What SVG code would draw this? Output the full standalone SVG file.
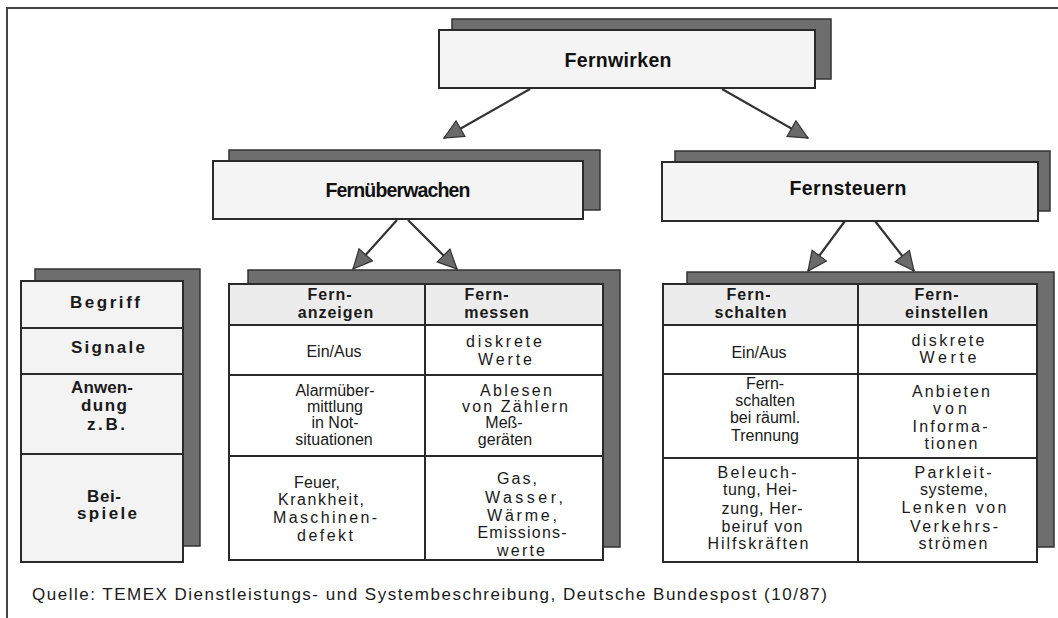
<svg xmlns="http://www.w3.org/2000/svg" width="1058" height="618" viewBox="0 0 1058 618">
<style>
.shadow{fill:#6e6e6e;stroke:#333;stroke-width:1.5}
.box{fill:#f4f4f4;stroke:#2a2a2a;stroke-width:2}
.hdr{fill:#ececec}
.cell{fill:#ffffff}
.lc{fill:#f3f3f3}
.ln{stroke:#2a2a2a;stroke-width:2;fill:none}
.big{font-family:"Liberation Sans",Arial,sans-serif;font-weight:bold;font-size:19.5px;fill:#111;text-anchor:middle}
.bh{font-family:"Liberation Sans",Arial,sans-serif;font-weight:bold;font-size:16px;letter-spacing:1px;fill:#1a1a1a;text-anchor:middle}
.bl{font-family:"Liberation Sans",Arial,sans-serif;font-weight:bold;font-size:17px;fill:#1a1a1a;text-anchor:middle}
.t{font-family:"Liberation Sans",Arial,sans-serif;font-size:16px;fill:#1a1a1a;text-anchor:middle}
.cap{font-family:"Liberation Sans",Arial,sans-serif;font-size:17px;fill:#1a1a1a}
.conn{stroke:#333;stroke-width:2.2;fill:none}
</style>
<defs>
<marker id="ah" markerUnits="userSpaceOnUse" markerWidth="24" markerHeight="22" refX="20" refY="10" orient="auto">
<path d="M1,1 L20,10 L1,19 z" fill="#6a6a6a" stroke="#333" stroke-width="1.2"/>
</marker>
</defs>
<rect width="1058" height="618" fill="#ffffff"/>
<g id="frame">
<path d="M7,618 L7,8 L1058,8" fill="none" stroke="#444" stroke-width="2"/>
</g>
<g id="connectors">
<line class="conn" x1="530" y1="89" x2="444" y2="138" marker-end="url(#ah)"/>
<line class="conn" x1="722" y1="89" x2="808" y2="138" marker-end="url(#ah)"/>
<line class="conn" x1="397" y1="220" x2="353" y2="269" marker-end="url(#ah)"/>
<line class="conn" x1="408" y1="220" x2="457" y2="269" marker-end="url(#ah)"/>
<line class="conn" x1="845" y1="221" x2="808" y2="271" marker-end="url(#ah)"/>
<line class="conn" x1="875" y1="221" x2="914" y2="271" marker-end="url(#ah)"/>
</g>
<g id="fernwirken">
<rect class="shadow" x="452" y="19" width="379" height="60"/>
<rect class="box" x="439" y="30" width="376" height="58"/>
<text class="big" x="618" y="67" textLength="107" lengthAdjust="spacing">Fernwirken</text>
</g>
<g id="fernueberwachen">
<rect class="shadow" x="229" y="150" width="371" height="60"/>
<rect class="box" x="213" y="161" width="370" height="58"/>
<text class="big" x="398" y="197" textLength="145" lengthAdjust="spacing">Fernüberwachen</text>
</g>
<g id="fernsteuern">
<rect class="shadow" x="675" y="151" width="375" height="60"/>
<rect class="box" x="662" y="162" width="376" height="59"/>
<text class="big" x="848" y="195" textLength="117" lengthAdjust="spacing">Fernsteuern</text>
</g>
<g id="legend">
<rect class="shadow" x="35" y="269" width="165" height="277"/>
<rect class="lc" x="21" y="281" width="162" height="281"/>
<path class="ln" d="M21,281 H183 V562 H21 Z M21,328 H183 M21,374 H183 M21,454 H183"/>
<text class="bl" x="105" y="308" textLength="70" lengthAdjust="spacing">Begriff</text>
<text class="bl" x="108" y="353" textLength="74" lengthAdjust="spacing">Signale</text>
<text class="bl" x="102" y="393" textLength="62" lengthAdjust="spacing">Anwen-</text>
<text class="bl" x="104" y="411" textLength="46" lengthAdjust="spacing">dung</text>
<text class="bl" x="106" y="430" textLength="38" lengthAdjust="spacing">z.B.</text>
<text class="bl" x="104" y="502" textLength="34" lengthAdjust="spacing">Bei-</text>
<text class="bl" x="107" y="519" textLength="60" lengthAdjust="spacing">spiele</text>
</g>
<g id="table-fernueberwachen">
<rect class="shadow" x="248" y="270" width="372" height="277"/>
<rect class="cell" x="229" y="284" width="374" height="276"/>
<rect class="hdr" x="229" y="284" width="374" height="41"/>
<path class="ln" d="M229,284 H603 V560 H229 Z M229,325 H603 M229,375 H603 M229,456 H603 M425,284 V560"/>
<text class="bh" x="330" y="300">Fern-</text>
<text class="bh" x="336" y="318">anzeigen</text>
<text class="bh" x="487" y="300">Fern-</text>
<text class="bh" x="497" y="318">messen</text>
<text class="t" x="334" y="357">Ein/Aus</text>
<text class="t" x="504" y="347" textLength="76" lengthAdjust="spacing">diskrete</text>
<text class="t" x="505" y="365" textLength="54" lengthAdjust="spacing">Werte</text>
<text class="t" x="335" y="396">Alarmüber-</text>
<text class="t" x="335" y="412">mittlung</text>
<text class="t" x="335" y="428">in Not-</text>
<text class="t" x="334" y="445">situationen</text>
<text class="t" x="516" y="396" textLength="72" lengthAdjust="spacing">Ablesen</text>
<text class="t" x="515" y="412" textLength="106" lengthAdjust="spacing">von Zählern</text>
<text class="t" x="504" y="428">Meß-</text>
<text class="t" x="505" y="445">geräten</text>
<text class="t" x="317" y="488" textLength="46" lengthAdjust="spacing">Feuer,</text>
<text class="t" x="321" y="505" textLength="86" lengthAdjust="spacing">Krankheit,</text>
<text class="t" x="325" y="523" textLength="104" lengthAdjust="spacing">Maschinen-</text>
<text class="t" x="325" y="541" textLength="56" lengthAdjust="spacing">defekt</text>
<text class="t" x="517" y="484" textLength="40" lengthAdjust="spacing">Gas,</text>
<text class="t" x="524" y="503" textLength="78" lengthAdjust="spacing">Wasser,</text>
<text class="t" x="522" y="521" textLength="70" lengthAdjust="spacing">Wärme,</text>
<text class="t" x="522" y="538" textLength="89" lengthAdjust="spacing">Emissions-</text>
<text class="t" x="521" y="556" textLength="48" lengthAdjust="spacing">werte</text>
</g>
<g id="table-fernsteuern">
<rect class="shadow" x="687" y="272" width="367" height="275"/>
<rect class="cell" x="663" y="284" width="374" height="278"/>
<rect class="hdr" x="663" y="284" width="374" height="41"/>
<path class="ln" d="M663,284 H1037 V562 H663 Z M663,325 H1037 M663,374 H1037 M663,458 H1037 M858,284 V562"/>
<text class="bh" x="749" y="300">Fern-</text>
<text class="bh" x="751" y="318">schalten</text>
<text class="bh" x="937" y="300">Fern-</text>
<text class="bh" x="947" y="318">einstellen</text>
<text class="t" x="759" y="358">Ein/Aus</text>
<text class="t" x="948" y="346" textLength="73" lengthAdjust="spacing">diskrete</text>
<text class="t" x="948" y="363" textLength="57" lengthAdjust="spacing">Werte</text>
<text class="t" x="765" y="389">Fern-</text>
<text class="t" x="765" y="406">schalten</text>
<text class="t" x="765" y="423">bei räuml.</text>
<text class="t" x="765" y="441">Trennung</text>
<text class="t" x="951" y="397" textLength="78" lengthAdjust="spacing">Anbieten</text>
<text class="t" x="950" y="414" textLength="34" lengthAdjust="spacing">von</text>
<text class="t" x="950" y="432" textLength="75" lengthAdjust="spacing">Informa-</text>
<text class="t" x="951" y="449" textLength="53" lengthAdjust="spacing">tionen</text>
<text class="t" x="757" y="478" textLength="79" lengthAdjust="spacing">Beleuch-</text>
<text class="t" x="760" y="495" textLength="74" lengthAdjust="spacing">tung, Hei-</text>
<text class="t" x="762" y="514" textLength="81" lengthAdjust="spacing">zung, Her-</text>
<text class="t" x="762" y="532" textLength="81" lengthAdjust="spacing">beiruf von</text>
<text class="t" x="758" y="549" textLength="101" lengthAdjust="spacing">Hilfskräften</text>
<text class="t" x="953" y="478" textLength="77" lengthAdjust="spacing">Parkleit-</text>
<text class="t" x="954" y="495" textLength="68" lengthAdjust="spacing">systeme,</text>
<text class="t" x="954" y="513" textLength="105" lengthAdjust="spacing">Lenken von</text>
<text class="t" x="954" y="532" textLength="88" lengthAdjust="spacing">Verkehrs-</text>
<text class="t" x="953" y="549" textLength="69" lengthAdjust="spacing">strömen</text>
</g>
<g id="caption">
<text class="cap" x="32" y="600" textLength="795" lengthAdjust="spacing">Quelle: TEMEX Dienstleistungs- und Systembeschreibung, Deutsche Bundespost (10/87)</text>
</g>
</svg>
